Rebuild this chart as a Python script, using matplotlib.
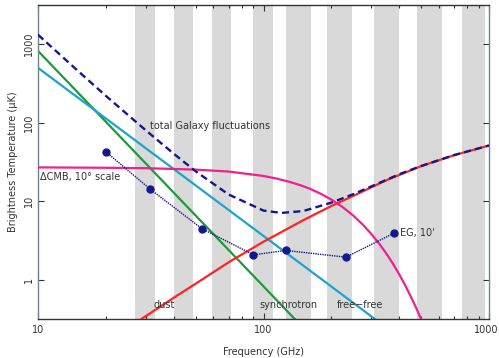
import numpy as np
import matplotlib
matplotlib.use("Agg")
import matplotlib.pyplot as plt
import matplotlib.transforms as mtransforms
from matplotlib.ticker import LogLocator, NullFormatter, FixedLocator

# ---- data ----
band_lo = [27, 40, 59, 90, 126, 191, 309, 477, 757]
band_hi = [33, 48.5, 72, 110, 162, 246, 398, 617, 960]

sync_f = [10, 145]
sync_T = [822, 0.27]

ff_f = [10, 312]
ff_T = [500, 0.316]

dust_f = [28.8, 40, 50, 71, 100, 150, 200, 250, 351.6, 500, 700, 1000]
dust_T = [0.317, 0.59, 0.89, 1.71, 3.05, 5.73, 8.7, 11.7, 18.6, 28.0, 38.6, 51.3]

cmb_f = [10, 20, 30, 50, 70, 100, 115, 130, 145, 160, 180, 200, 225, 250, 275, 300,
         325, 350, 375, 400, 425, 450, 475, 500, 520]
cmb_T = [27.0, 26.7, 26.4, 25.3, 23.9, 21.0, 19.4, 17.7, 16.1, 14.5, 12.4, 10.5,
         8.38, 6.57, 5.07, 3.86, 2.91, 2.17, 1.60, 1.17, 0.85, 0.61, 0.44, 0.314, 0.24]

tot_f = [10, 15, 20, 30, 40, 50, 70, 100, 120, 150, 200, 250, 300, 400, 500, 700, 1000]
tot_T = [1322, 460, 220, 80.5, 40.3, 24.1, 12.2, 7.6, 7.1, 7.5, 9.6, 12.3, 15.4, 22.1, 28.1, 38.7, 51.3]

eg_f = [20, 31.4, 53.2, 90.2, 126, 232, 379]
eg_T = [42.7, 14.3, 4.49, 2.08, 2.36, 1.94, 3.92]

xticks = [10, 100, 1000]
xticklabels = ["10", "100", "1000"]
yticks = [1, 10, 100, 1000]
yticklabels = ["1", "10", "100", "1000"]

# ---- figure ----
fig = plt.figure(figsize=(4.99, 3.58), dpi=100)
ax = fig.add_axes([38/499, 1-319/358, (489-38)/499, (319-5)/358])
ax.set_xscale("log")
ax.set_yscale("log")
ax.set_xlim(10, 1000)
ax.set_ylim(10**-0.5, 10**3.5)

for lo, hi in zip(band_lo, band_hi):
    ax.axvspan(lo, hi, color="#d9d9d9", lw=0, zorder=0)

ax.plot(sync_f, sync_T, color="#1f9a3a", lw=1.6, zorder=2)
ax.plot(ff_f, ff_T, color="#1ea3cf", lw=1.6, zorder=2)
ax.plot(dust_f, dust_T, color="#ff2323", lw=1.6, zorder=3)
ax.plot(cmb_f, cmb_T, color="#f0208f", lw=1.6, zorder=3)
ax.plot(tot_f, tot_T, color="#16178a", lw=1.7, dashes=(3, 1.8), zorder=4)
ax.plot(eg_f, eg_T, color="#16178a", lw=1.0, ls=(0, (1, 0.7)), marker="o",
        ms=5, mfc="#16178a", mec="#16178a", zorder=5)

fs = 7
tc = "#333333"
ax.text(31.4, 90.5, "total Galaxy fluctuations", fontsize=fs, color=tc, va="center", ha="left")
ax.text(10.2, 20.5, "ΔCMB, 10° scale", fontsize=fs, color=tc, va="center", ha="left")
ax.text(403, 3.92, "EG, 10'", fontsize=fs, color=tc, va="center", ha="left")
ax.text(32.4, 0.48, "dust", fontsize=fs, color=tc, va="center", ha="left")
ax.text(95.7, 0.48, "synchrotron", fontsize=fs, color=tc, va="center", ha="left")
ax.text(211, 0.48, "free\u2212free", fontsize=fs, color=tc, va="center", ha="left")

ax.xaxis.set_major_locator(FixedLocator(xticks))
ax.set_xticklabels(xticklabels)
ax.xaxis.set_minor_locator(LogLocator(base=10, subs=np.arange(2, 10)))
ax.xaxis.set_minor_formatter(NullFormatter())
ax.yaxis.set_major_locator(FixedLocator(yticks))
ax.set_yticklabels(yticklabels)
ax.yaxis.set_minor_locator(FixedLocator([]))

ax.tick_params(axis="x", which="both", direction="in", top=True, bottom=True,
               labelsize=fs, colors="#333333", pad=4)
ax.tick_params(axis="x", which="major", length=4, width=0.8)
ax.tick_params(axis="x", which="minor", length=2.5, width=0.8)
ax.tick_params(axis="y", which="major", direction="in", left=True, right=True,
               length=4, width=0.8, labelsize=fs, colors="#333333", labelrotation=90, pad=3)
for lab in ax.get_yticklabels():
    lab.set_va("center")

# keep the rightmost x tick label inside the figure
last = ax.get_xticklabels()[-1]
last.set_transform(last.get_transform() +
                   mtransforms.ScaledTranslation(-3/100, 0, fig.dpi_scale_trans))

for side in ["top", "bottom"]:
    ax.spines[side].set_color("#333333")
for side in ["left", "right"]:
    ax.spines[side].set_color("#6f8585")
for s in ax.spines.values():
    s.set_linewidth(1.0)

ax.set_xlabel("Frequency (GHz)", fontsize=fs, color="#333333", labelpad=9)
ax.set_ylabel("Brightness Temperature (μK)", fontsize=fs, color="#333333", labelpad=4)

fig.savefig("out.png", dpi=100)
